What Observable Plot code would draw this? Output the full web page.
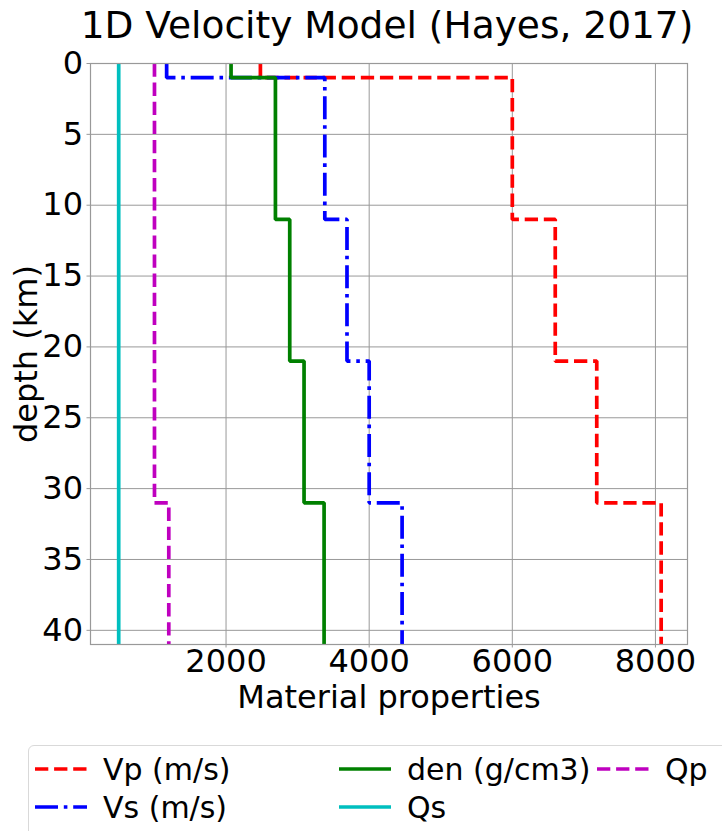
<!DOCTYPE html>
<html>
<head>
<meta charset="utf-8">
<script src="https://cdn.jsdelivr.net/npm/d3@7"></script>
<script src="https://cdn.jsdelivr.net/npm/@observablehq/plot@0.6"></script>
<style>
  body { margin: 0; background: #fff; font-family: "DejaVu Sans", sans-serif; }
  #wrap { width: 722px; height: 831px; position: relative; overflow: hidden; }
  #title { height: 45px; padding-top: 5px; line-height: 40px; font-size: 37.5px; text-align: center; padding-left: 52px; box-sizing: border-box; width: 722px; white-space: nowrap; color: #000; }
  #chart svg { display: block; overflow: visible; }
  #legend { position: relative; margin-left: 28px; margin-top: 13px; width: 740px; height: 100px; border: 1px solid #d9d9d9; border-radius: 6px; box-sizing: border-box; }
  .item { position: absolute; display: flex; align-items: center; height: 36px; font-size: 30px; white-space: nowrap; color: #000; }
  .item svg { margin-right: 16px; }
</style>
</head>
<body>
<div id="wrap">
  <div id="title">1D Velocity Model (Hayes, 2017)</div>
  <div id="chart"></div>
  <div id="legend"></div>
</div>
<script>
// ---- data ----
const depthTop = [0, 1, 11, 21, 31];   // km, top of each layer
const modelBottom = 41;                // km
const vp  = [2480, 6000, 6600, 7180, 8080];
const vs  = [1170, 3380, 3690, 4000, 4460];
const den = [2070, 2690, 2890, 3090, 3370];
const qs  = [500, 500, 500, 500, 500];
const qp  = [1000, 1000, 1000, 1000, 1200];
const seriesNames = ["Vp (m/s)", "Vs (m/s)", "den (g/cm3)", "Qs", "Qp"];
const xTicks = [2000, 4000, 6000, 8000];
const yTicks = [0, 5, 10, 15, 20, 25, 30, 35, 40];
const xLabel = "Material properties";
const yLabel = "depth (km)";

// ---- styles ----
const seriesValues = [vp, vs, den, qs, qp];
const colors = ["#ff0000", "#0000ff", "#008000", "#00bfbf", "#bf00bf"];
const dashes = ["13.3,5.8", "23,5.8,3.6,5.8", null, null, "13.3,5.8"];
const lw = 3.7;

function stepPoints(values, name) {
  const pts = [];
  values.forEach((v, i) => {
    const bottom = i + 1 < depthTop.length ? depthTop[i + 1] : modelBottom;
    pts.push({series: name, value: v, depth: depthTop[i]});
    pts.push({series: name, value: v, depth: bottom});
  });
  return pts;
}

const lineMarks = seriesValues.map((vals, i) =>
  Plot.line(stepPoints(vals, seriesNames[i]), {
    x: "value", y: "depth",
    stroke: colors[i], strokeWidth: lw,
    strokeDasharray: dashes[i] || undefined,
    strokeLinejoin: "miter", strokeLinecap: "butt"
  })
);

const FS = 32;
const plot = Plot.plot({
  width: 722,
  height: 687,
  marginTop: 18,
  marginBottom: 88,
  marginLeft: 90,
  marginRight: 35,
  style: {fontFamily: "DejaVu Sans", fontSize: FS + "px", background: "#fff", color: "#000", overflow: "visible"},
  x: {domain: [106, 8448]},
  y: {domain: [0, modelBottom], reverse: true},
  marks: [
    Plot.gridX({ticks: xTicks, stroke: "#999", strokeOpacity: 1, strokeWidth: 1}),
    Plot.gridY({ticks: yTicks, stroke: "#999", strokeOpacity: 1, strokeWidth: 1}),
    ...lineMarks,
    Plot.frame({stroke: "#999", strokeWidth: 1.2}),
    Plot.axisX({ticks: xTicks, tickSize: 3.5, tickPadding: 1, stroke: "#999", fill: "#000", fontSize: FS, label: null, tickFormat: d => String(d)}),
    Plot.axisY({ticks: yTicks, tickSize: 3.5, tickPadding: 4, stroke: "#999", fill: "#000", fontSize: FS, label: null, tickFormat: d => String(d)}),
    Plot.text([xLabel], {frameAnchor: "bottom", dy: 63, lineAnchor: "bottom", textAnchor: "middle", fontSize: FS, fill: "#000", text: d => d}),
    Plot.text([yLabel], {frameAnchor: "left", dx: -53.5, rotate: -90, lineAnchor: "bottom", textAnchor: "middle", fontSize: FS, fill: "#000", text: d => d})
  ]
});
document.getElementById("chart").appendChild(plot);

// ---- legend (below the chart) ----
const legend = document.getElementById("legend");
const layout = [
  {left: 6, top: 5}, {left: 6, top: 43},
  {left: 310, top: 5}, {left: 310, top: 43},
  {left: 568, top: 5}
];
seriesNames.forEach((name, i) => {
  const item = document.createElement("div");
  item.className = "item";
  item.style.left = layout[i].left + "px";
  item.style.top = layout[i].top + "px";
  const sw = d3.create("svg").attr("width", 52).attr("height", 12);
  sw.append("line").attr("x1", 0).attr("x2", 52).attr("y1", 6).attr("y2", 6)
    .attr("stroke", colors[i]).attr("stroke-width", lw)
    .attr("stroke-dasharray", dashes[i]);
  item.appendChild(sw.node());
  const t = document.createElement("span");
  t.textContent = name;
  item.appendChild(t);
  legend.appendChild(item);
});
</script>
</body>
</html>
